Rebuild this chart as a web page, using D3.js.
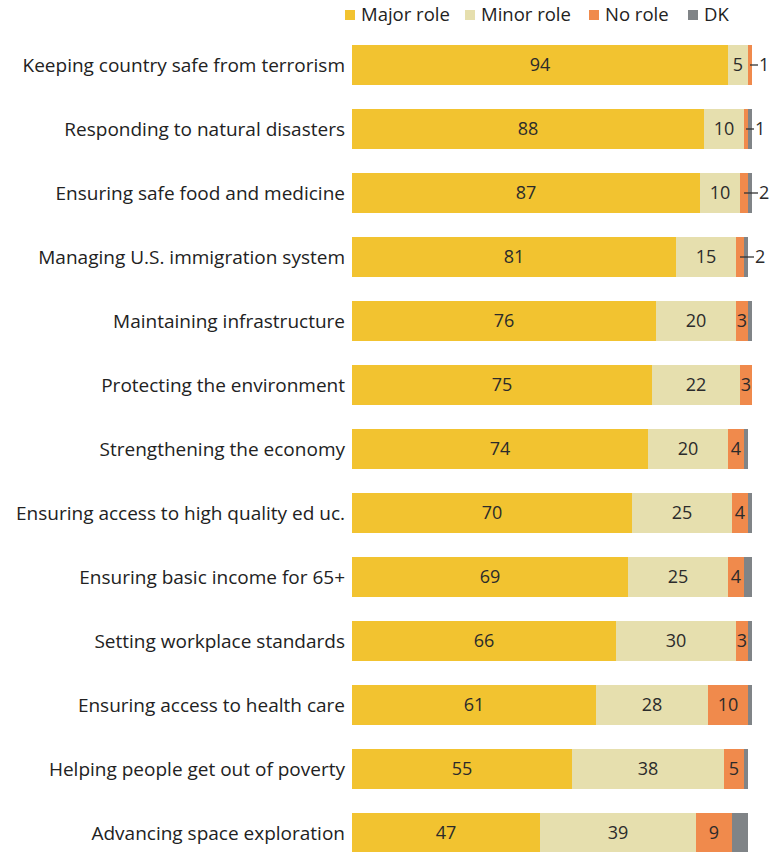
<!DOCTYPE html>
<html>
<head>
<meta charset="utf-8">
<script src="https://cdn.jsdelivr.net/npm/d3@7"></script>
<style>
  body { margin: 0; background: #fff; }
  text { font-family: "Open Sans", "Noto Sans", sans-serif; }
</style>
</head>
<body>
<div id="chart"></div>
<script>
// data
let categories = [
    "Keeping country safe from terrorism",
    "Responding to natural disasters",
    "Ensuring safe food and medicine",
    "Managing U.S. immigration system",
    "Maintaining infrastructure",
    "Protecting the environment",
    "Strengthening the economy",
    "Ensuring access to high quality ed uc.",
    "Ensuring basic income for 65+",
    "Setting workplace standards",
    "Ensuring access to health care",
    "Helping people get out of poverty",
    "Advancing space exploration"
];
let majorRole = [94, 88, 87, 81, 76, 75, 74, 70, 69, 66, 61, 55, 47];
let minorRole = [5, 10, 10, 15, 20, 22, 20, 25, 25, 30, 28, 38, 39];
let noRole = [1, 1, 2, 2, 3, 3, 4, 4, 4, 3, 10, 5, 9];
let dontKnow = [0, 1, 1, 1, 1, 0, 1, 1, 2, 1, 1, 1, 4];
// rows whose "no role" value is written outside the bar with a leader
let outsideLabel = [true, true, true, true, false, false, false, false, false, false, false, false, false];

let seriesNames = ["Major role", "Minor role", "No role", "DK"];
let colors = ["#f2c330", "#e6dfae", "#f08a4c", "#808487"];

let width = 769, height = 852;

let svg = d3.select("#chart")
    .append("svg")
    .attr("width", width)
    .attr("height", height);

// scales
let x = d3.scaleLinear()
    .domain([0, 100])
    .range([352, 752]);

let y = d3.scaleBand()
    .domain(categories)
    .range([33, 33 + 13 * 64])
    .paddingInner(0.375)
    .paddingOuter(0.1875);

// table for the stack
let rows = categories.map(function(c, i) {
    return { cat: c, i: i, major: majorRole[i], minor: minorRole[i], none: noRole[i], dk: dontKnow[i] };
});
let keys = ["major", "minor", "none", "dk"];
let stacked = d3.stack().keys(keys)(rows);

// bars
let layers = svg.selectAll("g.layer")
    .data(stacked)
    .enter()
    .append("g")
    .attr("class", "layer")
    .attr("fill", function(d, i) { return colors[i]; });

layers.selectAll("rect")
    .data(function(d) { return d; })
    .enter()
    .append("rect")
    .attr("x", function(d) { return x(d[0]); })
    .attr("y", function(d) { return y(d.data.cat); })
    .attr("width", function(d) { return x(d[1]) - x(d[0]); })
    .attr("height", y.bandwidth());

// value labels inside bars
layers.each(function(layer, li) {
    if (li == 3) return;
    d3.select(this).selectAll("text")
        .data(layer.filter(function(d) { return !(li == 2 && outsideLabel[d.data.i]); }))
        .enter()
        .append("text")
        .attr("x", function(d) { return (x(d[0]) + x(d[1])) / 2; })
        .attr("y", function(d) { return y(d.data.cat) + y.bandwidth() / 2; })
        .attr("dy", "0.35em")
        .attr("text-anchor", "middle")
        .attr("fill", "#2b2b2b")
        .style("font-size", "18px")
        .text(function(d) { return d[1] - d[0]; });
});

// outside labels with leader lines for small "no role" values
let noRoleLayer = stacked[2].filter(function(d) { return outsideLabel[d.data.i]; });
svg.selectAll("line.leader")
    .data(noRoleLayer)
    .enter()
    .append("line")
    .attr("class", "leader")
    .attr("x1", function(d) { return (x(d[0]) + x(d[1])) / 2; })
    .attr("x2", function(d) { return x(d[1]) + (d.data.i < 2 ? 6 : 10); })
    .attr("y1", function(d) { return y(d.data.cat) + y.bandwidth() / 2; })
    .attr("y2", function(d) { return y(d.data.cat) + y.bandwidth() / 2; })
    .attr("stroke", "#333")
    .attr("stroke-width", 1.3);

svg.selectAll("text.outside")
    .data(noRoleLayer)
    .enter()
    .append("text")
    .attr("class", "outside")
    .attr("x", function(d) { return x(d[1]) + (d.data.i < 2 ? 7 : 11); })
    .attr("y", function(d) { return y(d.data.cat) + y.bandwidth() / 2; })
    .attr("dy", "0.35em")
    .attr("fill", "#2b2b2b")
    .style("font-size", "18px")
    .text(function(d) { return d[1] - d[0]; });

// category labels
svg.selectAll("text.cat")
    .data(categories)
    .enter()
    .append("text")
    .attr("class", "cat")
    .attr("x", 345)
    .attr("y", function(d) { return y(d) + y.bandwidth() / 2; })
    .attr("dy", "0.35em")
    .attr("text-anchor", "end")
    .attr("fill", "#222")
    .style("font-size", "19px")
    .text(function(d) { return d; });

// legend
let legendX = [345, 465, 589, 688];
let legend = svg.selectAll("g.legend")
    .data(seriesNames)
    .enter()
    .append("g")
    .attr("class", "legend")
    .attr("transform", function(d, i) { return "translate(" + legendX[i] + ",15)"; });

legend.append("rect")
    .attr("x", 0)
    .attr("y", -5)
    .attr("width", 10)
    .attr("height", 10)
    .attr("fill", function(d, i) { return colors[i]; });

legend.append("text")
    .attr("x", 16)
    .attr("y", 0)
    .attr("dy", "0.35em")
    .attr("fill", "#222")
    .style("font-size", "18.5px")
    .text(function(d) { return d; });
</script>
</body>
</html>
